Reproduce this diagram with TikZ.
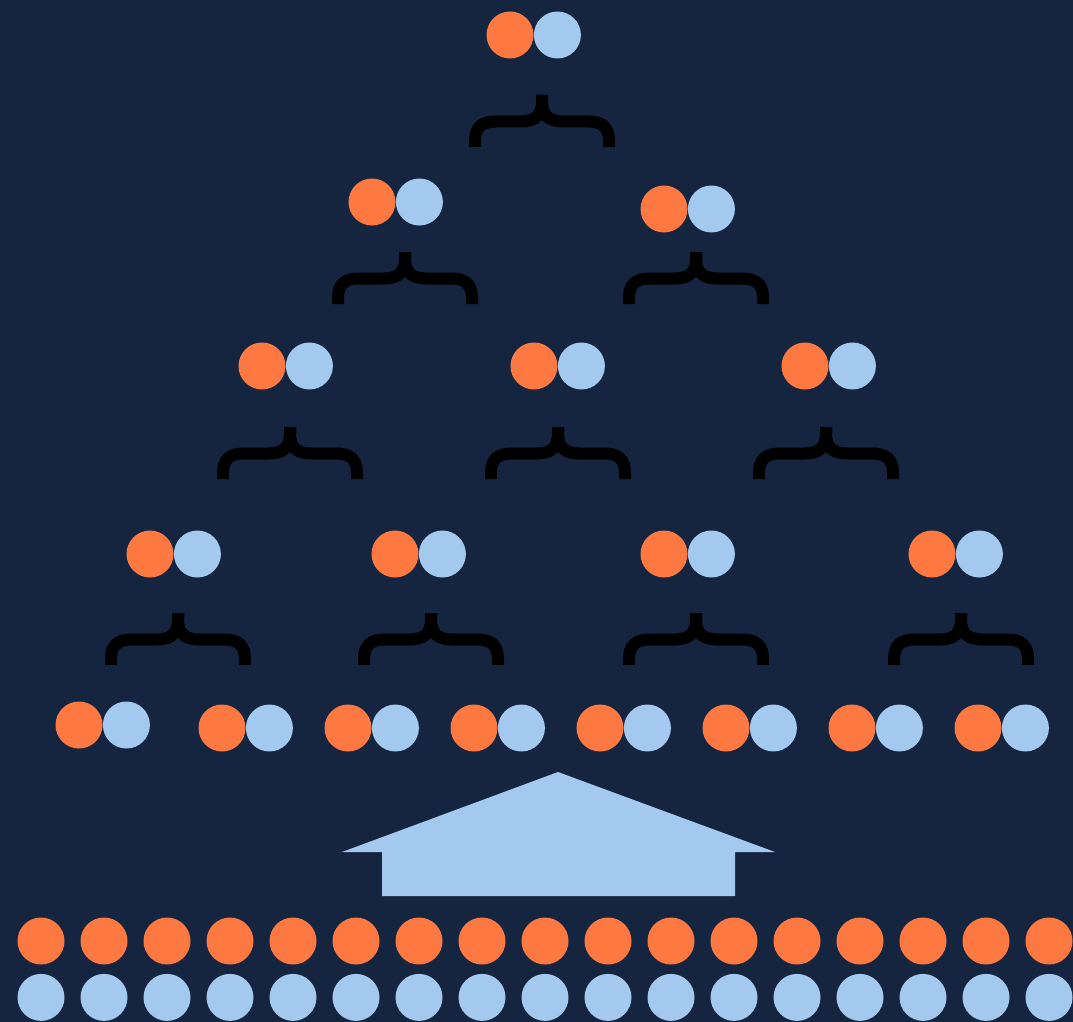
\documentclass[tikz,border=0pt]{standalone}
\usepackage{tikz}
\usetikzlibrary{positioning}

\definecolor{navy}{HTML}{16253F}
\definecolor{dotorange}{HTML}{FE7842}
\definecolor{dotblue}{HTML}{A3C9EE}

% one orange/blue pair: name, x, y of the orange dot
\newcommand{\dotpair}[3]{%
  \node[dotO] (#1o) at (#2,#3) {};
  \node[dotB, right=0pt of #1o] (#1b) {};}

\begin{document}
\begin{tikzpicture}[x=1pt, y=-1pt,
    dotO/.style={circle, fill=dotorange, minimum size=47pt, inner sep=0pt},
    dotB/.style={circle, fill=dotblue, minimum size=47pt, inner sep=0pt},
    braceline/.style={line width=12pt, line cap=butt, line join=round, black},
    curly/.pic={
      \draw[braceline] (-67,52) -- (-67,46) .. controls (-67,32) and (-60,26.5) .. (-46,26.5)
        -- (-22,26.5) .. controls (-6,26.5) and (0,20) .. (0,6) -- (0,0);
      \draw[braceline] (67,52) -- (67,46) .. controls (67,32) and (60,26.5) .. (46,26.5)
        -- (22,26.5) .. controls (6,26.5) and (0,20) .. (0,6) -- (0,0);
    }]

  % background, fixes the page size
  \fill[navy] (0,0) rectangle (1073,1022);

  % top of the tree
  \dotpair{r}{510}{35}
  \pic at (542,95) {curly};

  % level 2
  \dotpair{a1}{372}{202}
  \dotpair{a2}{664}{209}
  \pic at (405,252) {curly};
  \pic at (696,252) {curly};

  % level 3
  \dotpair{b1}{262}{366}
  \dotpair{b2}{534}{366}
  \dotpair{b3}{805}{366}
  \pic at (290,427) {curly};
  \pic at (558,427) {curly};
  \pic at (826,427) {curly};

  % level 4
  \dotpair{c1}{150}{554}
  \dotpair{c2}{395}{554}
  \dotpair{c3}{664}{554}
  \dotpair{c4}{932}{554}
  \pic at (178,613) {curly};
  \pic at (431,613) {curly};
  \pic at (696,613) {curly};
  \pic at (961,613) {curly};

  % level 5
  \dotpair{d1}{79}{725}
  \foreach \i [evaluate=\i as \xx using 222+126*(\i-2)] in {2,...,8}
    {\dotpair{d\i}{\xx}{728}}

  % big arrow pointing up
  \fill[dotblue] (558,772) -- (775,852) -- (735,852) -- (735,896)
    -- (382,896) -- (382,852) -- (342,852) -- cycle;

  % the input rows
  \foreach \i in {0,...,16} {
    \node[dotO] (in\i o) at (41+63*\i,941) {};
    \node[dotB, below=9pt of in\i o] (in\i b) {};
  }
\end{tikzpicture}
\end{document}
